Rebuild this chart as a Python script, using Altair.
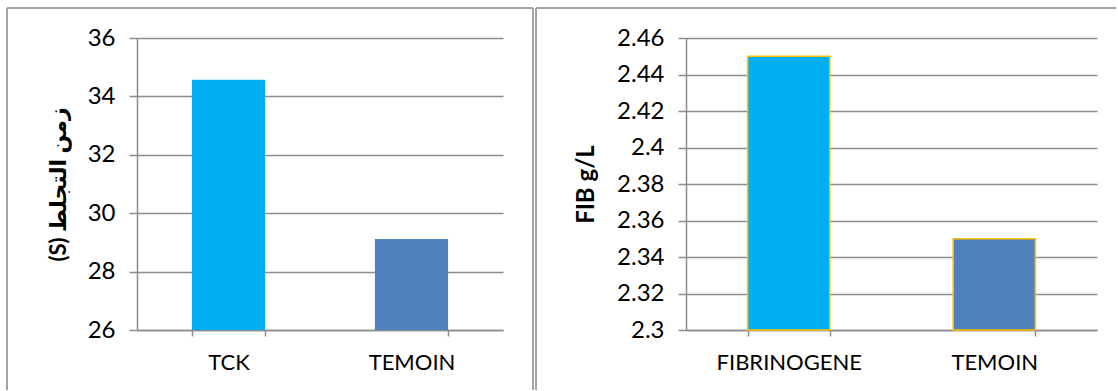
import altair as alt
import pandas as pd

# ---- data ----
left_categories = ["TCK", "TEMOIN"]
left_values = [34.57, 29.12]
left_colors = ["#00B0F0", "#4F81BD"]
left_ticks = [26, 28, 30, 32, 34, 36]
left_title = "(S) زمن  التجلط"

right_categories = ["FIBRINOGENE", "TEMOIN"]
right_values = [2.45, 2.35]
right_colors = ["#00B0F0", "#4F81BD"]
right_ticks = [2.3, 2.32, 2.34, 2.36, 2.38, 2.4, 2.42, 2.44, 2.46]
right_title = "FIB g/L"

GRID = "#8c8c8c"
BORDER = "#a3a3a3"
FONT = "Lato, 'DejaVu Sans', sans-serif"
H = 292


def border_rules(x_left, x_right, top, bottom, draw_right=True):
    one = alt.Data(values=[{}])
    layers = [
        alt.Chart(one).mark_rule(color=BORDER, strokeWidth=2).encode(
            x=alt.value(x_left), x2=alt.value(x_left), y=alt.value(top), y2=alt.value(bottom)),
        alt.Chart(one).mark_rule(color=BORDER, strokeWidth=2).encode(
            x=alt.value(x_left), x2=alt.value(x_right), y=alt.value(top), y2=alt.value(top)),
    ]
    if draw_right:
        layers.append(
            alt.Chart(one).mark_rule(color=BORDER, strokeWidth=2).encode(
                x=alt.value(x_right), x2=alt.value(x_right), y=alt.value(top), y2=alt.value(bottom)))
    return layers


def panel(cats, vals, colors, ticks, dom, fmt, title, title_x, stroke=None, title_size=24):
    df = pd.DataFrame({"cat": cats, "val": vals, "color": colors})
    x = alt.X("cat:N", sort=cats, title=None,
              scale=alt.Scale(paddingInner=0.6, paddingOuter=0.3),
              axis=alt.Axis(labelAngle=0, tickBand="extent", tickSize=6, labelPadding=16,
                            labelFontSize=22, grid=False))
    y = alt.Y("val:Q", scale=alt.Scale(domain=dom, zero=False, nice=False),
              axis=alt.Axis(values=ticks, format=fmt, tickSize=8, labelPadding=14,
                            labelFontSize=24,
                            grid=True, title=title, titleX=title_x, titleY=H / 2,
                            titleAngle=-90, titleAlign="center", titleBaseline="middle",
                            titleFontSize=title_size, titleFontWeight="bold"))
    mark_kwargs = {}
    if stroke:
        mark_kwargs = {"stroke": stroke, "strokeWidth": 1.5}
    bars = alt.Chart(df).mark_bar(**mark_kwargs).encode(
        x=x, y=y, y2=alt.datum(dom[0]),
        color=alt.Color("color:N", scale=None))
    return bars


left = alt.layer(
    panel(left_categories, left_values, left_colors, left_ticks, [26, 36], "d",
          left_title, -79, title_size=22),
    *border_rules(-130, 396, -30, 352),
).properties(width=366, height=H)

right = alt.layer(
    panel(right_categories, right_values, right_colors, right_ticks, [2.3, 2.46], ".2~f",
          right_title, -100, stroke="#FFC000"),
    *border_rules(-150, 430, -30, 352, draw_right=False),
).properties(width=411, height=H)

chart = alt.hconcat(left, right, spacing=183, bounds="flush").properties(
    padding={"left": 6, "top": 7, "right": 0, "bottom": 0}
).configure_view(stroke=None).configure_axis(
    labelFont=FONT, labelColor="#000000",
    titleFont=FONT, titleColor="#000000",
    gridColor=GRID, gridWidth=1.5, domainColor=GRID, domainWidth=1.5,
    tickColor=GRID, tickWidth=1.5,
)

chart.save("out.html", embed_options={"renderer": "svg", "actions": False})
